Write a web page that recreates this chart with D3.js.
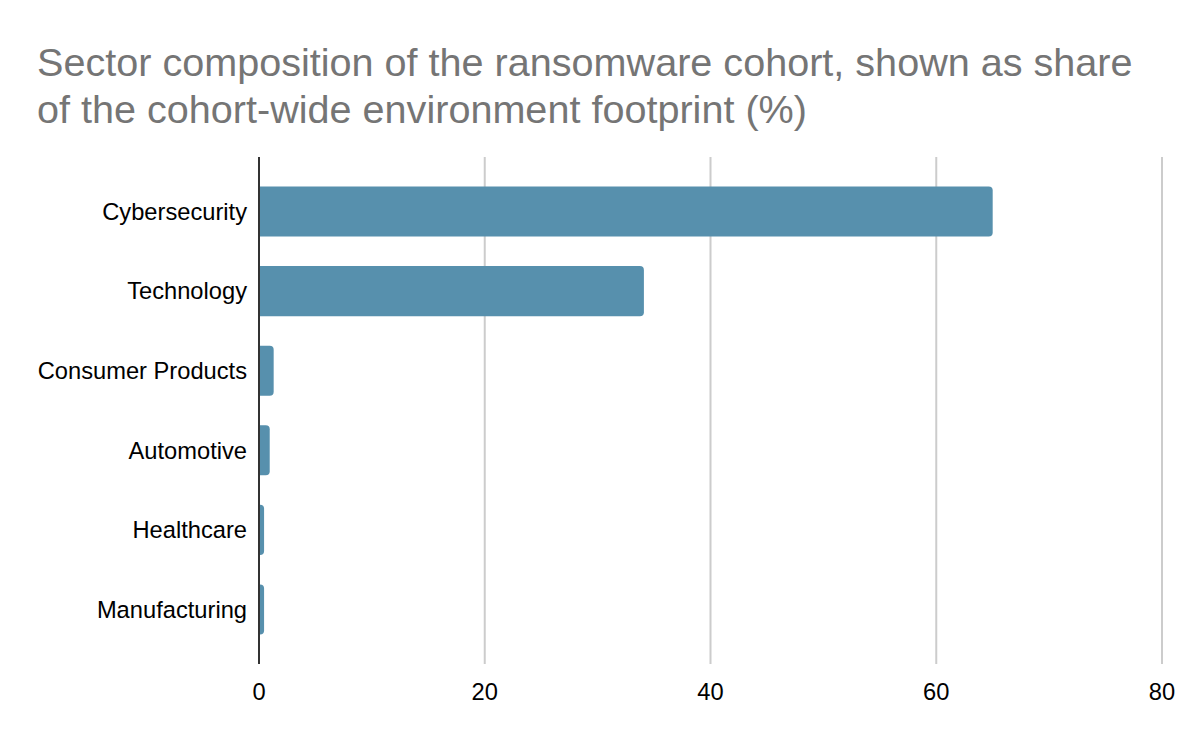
<!DOCTYPE html>
<html>
<head>
<meta charset="utf-8">
<script src="https://cdn.jsdelivr.net/npm/d3@7"></script>
<style>
  body { margin: 0; background: #fff; }
  svg { display: block; font-family: "Liberation Sans", Arial, sans-serif; }
</style>
</head>
<body>
<div id="container"></div>
<script>
const sectors = ["Cybersecurity", "Technology", "Consumer Products", "Automotive", "Healthcare", "Manufacturing"];
const shares = [65.0, 34.1, 1.3, 0.95, 0.45, 0.45];
const xTicks = [0, 20, 40, 60, 80];
const titleLines = [
  "Sector composition of the ransomware cohort, shown as share",
  "of the cohort-wide environment footprint (%)"
];

const width = 1200, height = 742;
const margin = {top: 157, right: 38, bottom: 78, left: 259};

const svg = d3.select("#container").append("svg")
  .attr("width", width)
  .attr("height", height);

svg.append("g").selectAll("text")
  .data(titleLines)
  .join("text")
  .attr("x", 37)
  .attr("y", (d, i) => 76 + i * 47)
  .attr("font-size", 39.6)
  .attr("fill", "#757575")
  .text(d => d);

const x = d3.scaleLinear()
  .domain([0, 80])
  .range([margin.left, width - margin.right]);

const y = d3.scaleBand()
  .domain(sectors)
  .range([margin.top, height - margin.bottom])
  .paddingInner(0.37)
  .paddingOuter(0.37);

// gridlines
svg.append("g").selectAll("line")
  .data(xTicks.filter(t => t > 0))
  .join("line")
  .attr("x1", d => x(d)).attr("x2", d => x(d))
  .attr("y1", margin.top).attr("y2", height - margin.bottom)
  .attr("stroke", "#cccccc")
  .attr("stroke-width", 2);

// bars, rounded on the right end only
const r = 4;
svg.append("g").selectAll("path")
  .data(sectors.map((s, i) => ({s, v: shares[i]})))
  .join("path")
  .attr("fill", "#5790ad")
  .attr("d", d => {
    const x0 = x(0), x1 = x(d.v), y0 = y(d.s), h = y.bandwidth();
    const rr = Math.min(r, (x1 - x0));
    return `M${x0},${y0}H${x1 - rr}Q${x1},${y0} ${x1},${y0 + rr}` +
           `V${y0 + h - rr}Q${x1},${y0 + h} ${x1 - rr},${y0 + h}H${x0}Z`;
  });

// y axis line
svg.append("line")
  .attr("x1", x(0)).attr("x2", x(0))
  .attr("y1", margin.top).attr("y2", height - margin.bottom)
  .attr("stroke", "#333")
  .attr("stroke-width", 2);

// category labels
svg.append("g").selectAll("text")
  .data(sectors)
  .join("text")
  .attr("x", x(0) - 12)
  .attr("y", d => y(d) + y.bandwidth() / 2)
  .attr("dy", "0.35em")
  .attr("text-anchor", "end")
  .attr("font-size", 23.7)
  .attr("fill", "#000")
  .text(d => d);

// x tick labels
svg.append("g").selectAll("text")
  .data(xTicks)
  .join("text")
  .attr("x", d => x(d))
  .attr("y", 700)
  .attr("text-anchor", "middle")
  .attr("font-size", 23.7)
  .attr("fill", "#000")
  .text(d => d);
</script>
</body>
</html>
